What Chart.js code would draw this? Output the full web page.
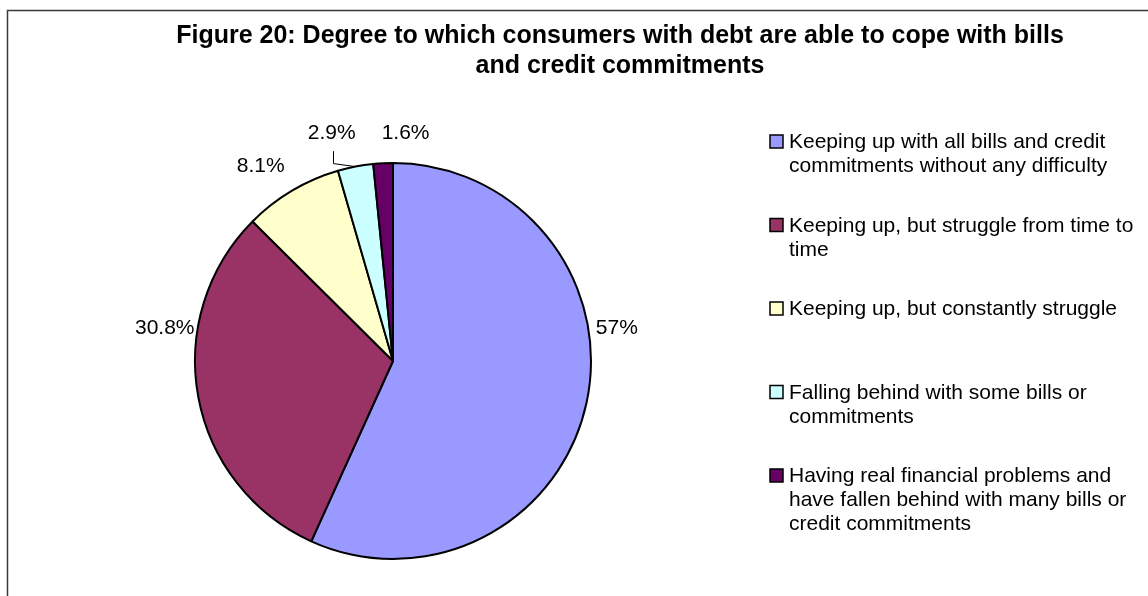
<!DOCTYPE html>
<html>
<head>
<meta charset="utf-8">
<title>Figure 20</title>
<script src="https://cdn.jsdelivr.net/npm/chart.js@4.4.1/dist/chart.umd.min.js"></script>
<style>
  html, body { margin: 0; padding: 0; background: #fff; }
  #wrap { width: 1148px; height: 596px; }
</style>
</head>
<body>
<div id="wrap"><canvas id="myChart" width="1148" height="596"></canvas></div>
<script>
   const titleLines = [
       'Figure 20: Degree to which consumers with debt are able to cope with bills',
       'and credit commitments'
   ];
   const categories = [
       ['Keeping up with all bills and credit', 'commitments without any difficulty'],
       ['Keeping up, but struggle from time to', 'time'],
       ['Keeping up, but constantly struggle'],
       ['Falling behind with some bills or', 'commitments'],
       ['Having real financial problems and', 'have fallen behind with many bills or', 'credit commitments']
   ];
   const shares = [57, 30.8, 8.1, 2.9, 1.6];
   const colors = ['#9999FF', '#993366', '#FFFFCC', '#CCFFFF', '#660066'];

   const FONT = '"Liberation Sans", Arial, sans-serif';

   //    draws frame, title, legend and the percent labels around the pie
   const excelPie = {
       id: 'excelPie',
       afterDraw(chart, args, opts) {
           const ctx = chart.ctx;
           ctx.save();

           // outer frame
           ctx.strokeStyle = '#3a3a3a';
           ctx.lineWidth = 1.5;
           ctx.strokeRect(7.5, 10.5, 1400, 800);

           // title
           ctx.fillStyle = '#000';
           ctx.font = 'bold 25px ' + FONT;
           ctx.textAlign = 'center';
           ctx.textBaseline = 'alphabetic';
           titleLines.forEach((line, i) => ctx.fillText(line, opts.titleX, 43 + i * 30));

           // legend
           ctx.font = '21px ' + FONT;
           ctx.textAlign = 'left';
           categories.forEach((lines, i) => {
               const base = opts.legendTop + i * opts.legendStep;
               ctx.fillStyle = colors[i];
               ctx.fillRect(opts.legendX, base - 13, 13, 13);
               ctx.strokeStyle = '#000';
               ctx.lineWidth = 1.5;
               ctx.strokeRect(opts.legendX, base - 13, 13, 13);
               ctx.fillStyle = '#000';
               lines.forEach((t, k) => ctx.fillText(t, opts.legendX + 19, base + k * 24));
           });

           // value labels
           const meta = chart.getDatasetMeta(0);
           ctx.textAlign = 'center';
           ctx.textBaseline = 'middle';
           meta.data.forEach((arc, i) => {
               const p = arc.getProps(['x', 'y', 'startAngle', 'endAngle', 'outerRadius']);
               const mid = (p.startAngle + p.endAngle) / 2;
               const r = p.outerRadius + 30;
               const lx = p.x + Math.cos(mid) * r + opts.nudge[i][0];
               const ly = p.y + Math.sin(mid) * r + opts.nudge[i][1];
               ctx.fillStyle = '#000';
               ctx.fillText(shares[i] + '%', lx, ly);
               if (opts.leader[i]) {
                   const ex = p.x + Math.cos(mid) * p.outerRadius;
                   const ey = p.y + Math.sin(mid) * p.outerRadius;
                   ctx.strokeStyle = '#000';
                   ctx.lineWidth = 1;
                   ctx.beginPath();
                   ctx.moveTo(Math.round(lx) + 1.5, ly + 18);
                   ctx.lineTo(Math.round(lx) + 1.5, ey - 3);
                   ctx.lineTo(ex, ey);
                   ctx.stroke();
               }
           });
           ctx.restore();
       }
   };

   const chartData = {
       labels: categories,
       datasets: [{
           data: shares,
           backgroundColor: colors,
           borderColor: '#000',
           borderWidth: 2,
           hoverOffset: 0
       }]
   };

   const config = {
       type: 'pie',
       data: chartData,
       options: {
           responsive: false,
           animation: false,
           layout: {
               padding: { left: 194, right: 556, top: 162, bottom: 36 }
           },
           plugins: {
               legend: { display: false },
               tooltip: { enabled: false },
               excelPie: {
                   titleX: 620,
                   legendX: 770,
                   legendTop: 148,
                   legendStep: 83.5,
                   nudge: [[1, -81], [-4, -74], [-16, 1], [-18, -4], [24, 0]],
                   leader: [false, false, false, true, false]
               }
           }
       },
       plugins: [excelPie]
   };

   new Chart(
       document.getElementById('myChart'),
       config
   );
</script>
</body>
</html>
